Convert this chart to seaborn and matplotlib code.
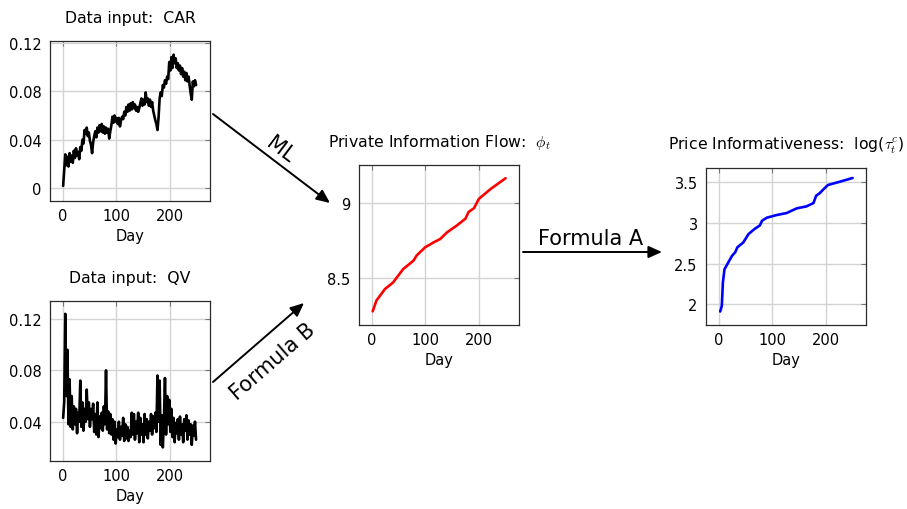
import numpy as np
import pandas as pd
import matplotlib
matplotlib.use("Agg")
import matplotlib.pyplot as plt
from matplotlib.patches import FancyArrowPatch
from matplotlib.ticker import FuncFormatter, FixedLocator
import seaborn as sns

# ---- data ---------------------------------------------------------------
# cumulative abnormal return, sampled every other day
car_values = [
    0.002, 0.015, 0.028, 0.019, 0.026, 0.018, 0.029, 0.022, 0.027, 0.021,
    0.031, 0.025, 0.033, 0.027, 0.030, 0.024, 0.034, 0.031, 0.040, 0.037,
    0.048, 0.045, 0.050, 0.043, 0.046, 0.039, 0.036, 0.029, 0.038, 0.043,
    0.047, 0.042, 0.050, 0.046, 0.052, 0.047, 0.053, 0.046, 0.051, 0.045,
    0.050, 0.046, 0.049, 0.041, 0.047, 0.052, 0.059, 0.054, 0.060, 0.055,
    0.058, 0.053, 0.058, 0.051, 0.056, 0.059, 0.057, 0.063, 0.060, 0.067,
    0.063, 0.069, 0.064, 0.070, 0.065, 0.071, 0.066, 0.069, 0.064, 0.067,
    0.063, 0.066, 0.070, 0.074, 0.068, 0.073, 0.069, 0.079, 0.071, 0.074,
    0.068, 0.073, 0.067, 0.071, 0.064, 0.060, 0.056, 0.053, 0.048, 0.058,
    0.074, 0.079, 0.076, 0.085, 0.083, 0.089, 0.086, 0.092, 0.090, 0.104,
    0.097, 0.108, 0.099, 0.110, 0.103, 0.107, 0.099, 0.103, 0.097, 0.101,
    0.094, 0.099, 0.092, 0.096, 0.089, 0.095, 0.088, 0.092, 0.085, 0.078,
    0.073, 0.088, 0.084, 0.089, 0.085,
]
# quadratic variation, sampled every other day
qv_values = [
    0.043, 0.055, 0.124, 0.060, 0.096, 0.038, 0.073, 0.036, 0.060, 0.034,
    0.052, 0.038, 0.050, 0.031, 0.047, 0.040, 0.072, 0.036, 0.055, 0.033,
    0.050, 0.040, 0.065, 0.042, 0.055, 0.036, 0.050, 0.042, 0.054, 0.032,
    0.046, 0.030, 0.055, 0.028, 0.044, 0.035, 0.047, 0.033, 0.052, 0.038,
    0.080, 0.034, 0.048, 0.031, 0.046, 0.030, 0.042, 0.026, 0.040, 0.023,
    0.034, 0.028, 0.040, 0.026, 0.036, 0.029, 0.043, 0.025, 0.038, 0.027,
    0.036, 0.025, 0.033, 0.028, 0.047, 0.030, 0.046, 0.026, 0.040, 0.031,
    0.047, 0.024, 0.043, 0.030, 0.038, 0.024, 0.046, 0.030, 0.042, 0.027,
    0.040, 0.033, 0.046, 0.030, 0.044, 0.035, 0.047, 0.032, 0.076, 0.040,
    0.072, 0.022, 0.045, 0.020, 0.040, 0.074, 0.030, 0.060, 0.038, 0.057,
    0.032, 0.050, 0.028, 0.043, 0.024, 0.039, 0.031, 0.042, 0.026, 0.044,
    0.030, 0.038, 0.024, 0.042, 0.033, 0.045, 0.026, 0.041, 0.030, 0.038,
    0.022, 0.037, 0.029, 0.040, 0.026,
]
input_days = list(range(1, 2 * len(car_values), 2))

# private information flow phi_t
phi_days = [2, 9, 25, 40, 59, 78, 84, 100, 116, 128, 141, 159, 175, 181,
            191, 200, 222, 250]
phi_values = [8.278, 8.35, 8.427, 8.47, 8.56, 8.615, 8.65, 8.705, 8.738,
              8.76, 8.805, 8.85, 8.895, 8.94, 8.965, 9.027, 9.093, 9.165]

# price informativeness log(tau_t^c)
tau_days = [3, 6, 8, 11, 16, 25, 31, 35, 46, 56, 68, 77, 81, 90, 108, 127,
            136, 146, 164, 177, 182, 189, 195, 204, 226, 250]
tau_values = [1.911, 1.98, 2.27, 2.43, 2.49, 2.595, 2.64, 2.70, 2.76, 2.865,
              2.93, 2.97, 3.027, 3.065, 3.097, 3.122, 3.15, 3.18, 3.204,
              3.245, 3.335, 3.368, 3.41, 3.467, 3.507, 3.553]

xticks = [0, 100, 200]

# ---- figure -------------------------------------------------------------
sns.set_style("white")
plt.rcParams["font.family"] = ["DejaVu Sans"]
plt.rcParams["mathtext.fontset"] = "cm"
for key in ["text.color", "axes.labelcolor", "xtick.color", "ytick.color"]:
    plt.rcParams[key] = "black"

W, H = 907, 510
fig = plt.figure(figsize=(W / 100, H / 100), dpi=100)


def rect(x0, y0, x1, y1):
    return [x0 / W, 1 - y1 / H, (x1 - x0) / W, (y1 - y0) / H]


def fpt(x, y):
    return (x / W, 1 - y / H)


def style(ax, title, yticks, ylim):
    ax.set_xlim(-23.5, 275)
    ax.set_ylim(*ylim)
    ax.xaxis.set_major_locator(FixedLocator(xticks))
    ax.yaxis.set_major_locator(FixedLocator(yticks))
    ax.yaxis.set_major_formatter(FuncFormatter(lambda v, p: f"{v:g}"))
    ax.grid(True, color="#d3d3d3", linewidth=1.0)
    ax.set_axisbelow(True)
    for s in ax.spines.values():
        s.set_color("#2a2a2a")
        s.set_linewidth(0.9)
    ax.tick_params(direction="in", length=3.5, width=0.8, color="#777777",
                   labelcolor="black", top=True, right=True,
                   labelsize=10.5, pad=5)
    ax.tick_params(axis="y", pad=6)
    ax.set_xlabel("Day", fontsize=10.5, labelpad=4)
    ax.set_ylabel("")
    ax.set_title(title, fontsize=11.3, pad=14)


ax_car = fig.add_axes(rect(50, 42, 210, 202))
ax_qv = fig.add_axes(rect(50, 302, 210, 462))
ax_phi = fig.add_axes(rect(359, 166, 519, 326))
ax_tau = fig.add_axes(rect(706, 169, 866, 326))

df_in = pd.DataFrame({"Day": input_days, "CAR": car_values, "QV": qv_values})
df_phi = pd.DataFrame({"Day": phi_days, "phi": phi_values})
df_tau = pd.DataFrame({"Day": tau_days, "tau": tau_values})

sns.lineplot(data=df_in, x="Day", y="CAR", ax=ax_car, color="black",
             linewidth=1.9)
sns.lineplot(data=df_in, x="Day", y="QV", ax=ax_qv, color="black",
             linewidth=1.9)
sns.lineplot(data=df_phi, x="Day", y="phi", ax=ax_phi, color="red",
             linewidth=1.9)
sns.lineplot(data=df_tau, x="Day", y="tau", ax=ax_tau, color="blue",
             linewidth=1.9)

style(ax_car, "Data input:  CAR", [0, 0.04, 0.08, 0.12], (-0.0104, 0.1213))
style(ax_qv, "Data input:  QV", [0.04, 0.08, 0.12], (0.0094, 0.134))
style(ax_phi, r"Private Information Flow:  $\phi_t$", [8.5, 9], (8.187, 9.253))
style(ax_tau, r"Price Informativeness:  log($\tau_t^c$)", [2, 2.5, 3, 3.5],
      (1.745, 3.676))

# ---- arrows between panels ---------------------------------------------
for (x0, y0), (x1, y1) in [((213, 115), (330, 204)),
                           ((213, 383), (304, 304)),
                           ((523, 253), (662, 253))]:
    fig.add_artist(FancyArrowPatch(
        fpt(x0, y0), fpt(x1, y1), transform=fig.transFigure,
        arrowstyle="-|>,head_length=0.9,head_width=0.4", mutation_scale=9,
        color="black", lw=1.4, shrinkA=0, shrinkB=0))

fig.text(*fpt(280, 150), "ML", rotation=-37, fontsize=15,
         ha="center", va="center")
fig.text(*fpt(273, 362), "Formula B", rotation=41, fontsize=15,
         ha="center", va="center")
fig.text(*fpt(591, 239), "Formula A", fontsize=15, ha="center", va="center")

fig.savefig("out.png", dpi=100)
